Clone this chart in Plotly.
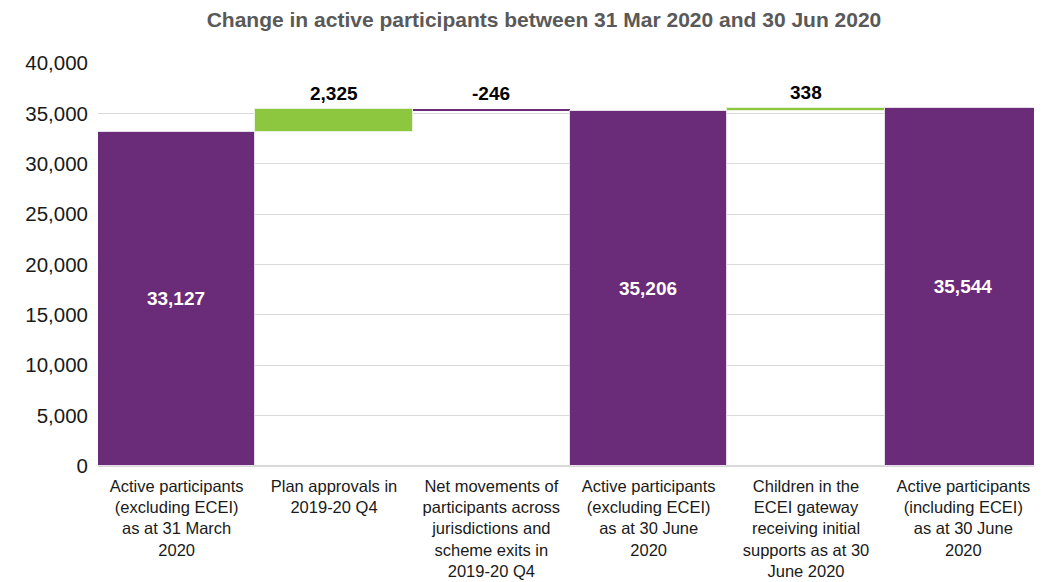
import plotly.graph_objects as go

categories = [
    "Active participants<br>(excluding ECEI)<br>as at 31 March<br>2020",
    "Plan approvals in<br>2019-20 Q4",
    "Net movements of<br>participants across<br>jurisdictions and<br>scheme exits in<br>2019-20 Q4",
    "Active participants<br>(excluding ECEI)<br>as at 30 June<br>2020",
    "Children in the<br>ECEI gateway<br>receiving initial<br>supports as at 30<br>June 2020",
    "Active participants<br>(including ECEI)<br>as at 30 June<br>2020",
]
values = [33127, 2325, -246, 35206, 338, 35544]
measures = ["absolute", "relative", "relative", "total", "relative", "total"]
y_ticks = [0, 5000, 10000, 15000, 20000, 25000, 30000, 35000, 40000]

PURPLE = "#6A2C78"
GREEN = "#8DC63F"
FONT = "Liberation Sans, Arial, sans-serif"

wf_y = [v if m != "total" else 0 for v, m in zip(values, measures)]
texts = [f"{v:,}" if m != "relative" else "" for v, m in zip(values, measures)]

fig = go.Figure(go.Waterfall(
    x=categories,
    y=wf_y,
    measure=measures,
    text=texts,
    texttemplate="<b>%{text}</b>",
    textposition="inside",
    insidetextanchor="middle",
    textfont=dict(family=FONT, size=19, color="white"),
    increasing=dict(marker=dict(color=GREEN, line=dict(color="#E8F2DA", width=1))),
    decreasing=dict(marker=dict(color=PURPLE, line=dict(width=0))),
    totals=dict(marker=dict(color=PURPLE, line=dict(color="#E6DDEB", width=1))),
    connector=dict(visible=False),
    hoverinfo="skip",
))

running = 0
annotations = []
for c, v, m in zip(categories, values, measures):
    if m in ("absolute", "total"):
        running = v if m == "absolute" else running
        continue
    start = running
    end = running + v
    running = end
    annotations.append(dict(
        x=c, y=max(start, end), xref="x", yref="y",
        text=f"<b>{v:,}</b>", showarrow=False, yanchor="bottom", yshift=3,
        font=dict(family=FONT, size=19, color="black"),
    ))

fig.update_layout(
    width=1034, height=574,
    margin=dict(l=90, r=0, t=55, b=116),
    paper_bgcolor="white", plot_bgcolor="white",
    waterfallgap=0,
    showlegend=False,
    title=dict(text="<b>Change in active participants between 31 Mar 2020 and 30 Jun 2020</b>",
               x=536 / 1034, xanchor="center", y=1 - 12 / 574, yanchor="middle",
               font=dict(family=FONT, size=21, color="#595959")),
    font=dict(family=FONT, size=16.5, color="#1a1a1a"),
    annotations=annotations,
)
fig.update_yaxes(range=[0, 40000], tickvals=y_ticks, tickformat=",", showgrid=True,
                 gridcolor="#D9D9D9", gridwidth=1, zeroline=True, zerolinecolor="#D9D9D9",
                 showline=False, ticks="", ticklen=0, ticklabelstandoff=9,
                 tickfont=dict(size=20.5, color="#1a1a1a"), automargin=False)
fig.update_xaxes(showline=False, ticks="", ticklabelstandoff=8,
                 tickfont=dict(size=16.5, color="#1a1a1a"), tickangle=0, automargin=False)

fig.write_html("out.html")
